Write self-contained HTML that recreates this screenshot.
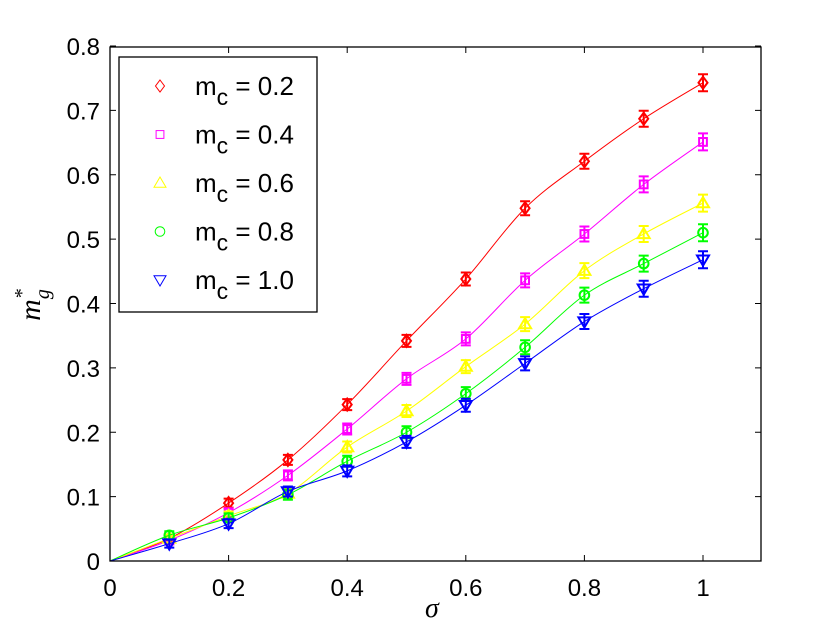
<!DOCTYPE html>
<html><head><meta charset="utf-8"><style>
body{margin:0;background:#fff;width:840px;height:632px;overflow:hidden}
svg{display:block;font-family:"Liberation Sans",sans-serif}
</style></head><body>
<svg id="s" width="840" height="632" xmlns="http://www.w3.org/2000/svg">
<rect x="0" y="0" width="840" height="632" fill="#fff"/>
<g id="plot"></g>
<rect x="110" y="47" width="651" height="514" fill="none" stroke="#000" stroke-width="1.3"/>
<g id="ticks" stroke="#000" stroke-width="1"></g>
<g id="labels" font-size="24" fill="#000"></g>
<text x="425" y="617" font-family="Liberation Serif,serif" font-style="italic" font-size="28">σ</text>
<g transform="translate(40,305) rotate(-90)"><text font-family="Liberation Serif,serif" font-style="italic" font-size="30" text-anchor="middle">m<tspan font-size="20" dy="9">g</tspan><tspan font-size="20" dy="-21" dx="-10">*</tspan></text></g>
<rect x="119" y="57" width="198" height="255" fill="#fff" stroke="#000" stroke-width="1.3"/>
<g id="leg" font-size="26"></g>
</svg>
<script>
const X=v=>110+v*593,Y=v=>561-v*643.75;
const xs=[0.1,0.2,0.3,0.4,0.5,0.6,0.7,0.8,0.9,1.0];
const S=[
["#ff0000","d",[0.035,0.09,0.157,0.243,0.342,0.438,0.548,0.621,0.687,0.743],"0.2"],
["#ff00ff","s",[0.032,0.075,0.133,0.205,0.283,0.345,0.436,0.508,0.585,0.651],"0.4"],
["#ffff00","t",[0.035,0.07,0.105,0.177,0.233,0.302,0.368,0.451,0.508,0.556],"0.6"],
["#00ff00","o",[0.04,0.067,0.103,0.155,0.2,0.26,0.332,0.413,0.462,0.51],"0.8"],
["#0000ff","v",[0.027,0.058,0.108,0.14,0.185,0.242,0.307,0.372,0.423,0.468],"1.0"]];
function mk(t,x,y,c,r,w){
 if(t=="d")return `<path d="M${x} ${y-r}L${x+r*0.75} ${y}L${x} ${y+r}L${x-r*0.75} ${y}Z" fill="none" stroke="${c}" stroke-width="${w}"/>`;
 if(t=="s")return `<rect x="${x-r*0.65}" y="${y-r*0.65}" width="${r*1.3}" height="${r*1.3}" fill="none" stroke="${c}" stroke-width="${w}"/>`;
 if(t=="t")return `<path d="M${x} ${y-r}L${x+r} ${y+r*0.7}L${x-r} ${y+r*0.7}Z" fill="none" stroke="${c}" stroke-width="${w}"/>`;
 if(t=="v")return `<path d="M${x} ${y+r}L${x+r} ${y-r*0.7}L${x-r} ${y-r*0.7}Z" fill="none" stroke="${c}" stroke-width="${w}"/>`;
 return `<circle cx="${x}" cy="${y}" r="${r*0.8}" fill="none" stroke="${c}" stroke-width="${w}"/>`;
}
let h="";
S.forEach(([c,t,ys])=>{
 const P=[[X(0),Y(0)]].concat(xs.map((x,i)=>[X(x),Y(ys[i])]));
 let d=`M${P[0][0]} ${P[0][1]}`;
 for(let i=0;i<P.length-1;i++){
  const p0=P[Math.max(0,i-1)],p1=P[i],p2=P[i+1],p3=P[Math.min(P.length-1,i+2)];
  d+=`C${p1[0]+(p2[0]-p0[0])/6} ${p1[1]+(p2[1]-p0[1])/6} ${p2[0]-(p3[0]-p1[0])/6} ${p2[1]-(p3[1]-p1[1])/6} ${p2[0]} ${p2[1]}`;
 }
 h+=`<path d="${d}" fill="none" stroke="${c}" stroke-width="1"/>`;
 xs.forEach((x,i)=>{const px=X(x),py=Y(ys[i]);const e=2+i*0.5;
  h+=`<path d="M${px} ${py-e-2}V${py+e+2}M${px-5} ${py-e-2}H${px+5}M${px-5} ${py+e+2}H${px+5}" stroke="${c}" stroke-width="2"/>`;
  h+=mk(t,px,py,c,6,2);});
});
document.getElementById("plot").innerHTML=h;
let tk="",lb="";
for(let i=0;i<=11;i+=2){const x=X(i/10);tk+=`<path d="M${x} 561v-6M${x} 47v6"/>`;
 lb+=`<text x="${x}" y="596" text-anchor="middle">${i==0?"0":i==10?"1":(i/10).toFixed(1)}</text>`;}
for(let i=0;i<=8;i++){const y=Y(i/10);tk+=`<path d="M110 ${y}h6M761 ${y}h-6"/>`;
 lb+=`<text x="100" y="${y+9}" text-anchor="end">${i==0?"0":(i/10).toFixed(1)}</text>`;}
document.getElementById("ticks").innerHTML=tk;
document.getElementById("labels").innerHTML=lb;
let lg="";
S.forEach(([c,t,ys,l],i)=>{const y=86+i*48.5;
 lg+=mk(t,160,y,c,6,1);
 lg+=`<text x="195" y="${y+9}">m<tspan font-size="23" dy="10">c</tspan><tspan dy="-10"> = ${l}</tspan></text>`;});
document.getElementById("leg").innerHTML=lg;
</script>
</body></html>
